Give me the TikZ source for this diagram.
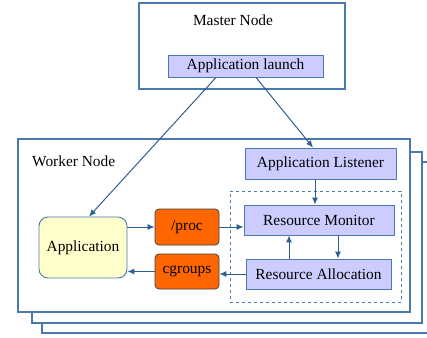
\documentclass[tikz,border=0pt]{standalone}
\usepackage{fontspec}
\setmainfont{Liberation Serif}
\usetikzlibrary{arrows.meta}
\definecolor{frameblue}{HTML}{4A79AC}
\definecolor{arrowblue}{HTML}{2D5F92}
\definecolor{lav}{HTML}{CCCCFF}
\definecolor{appyellow}{HTML}{FFFFCC}
\definecolor{orng}{HTML}{FF6600}
\tikzset{
  frame/.style={draw=frameblue, line width=1.6pt, fill=white, inner sep=0pt},
  lavbox/.style={draw=frameblue, line width=0.9pt, fill=lav, inner sep=0pt, font=\fontsize{15.4}{18}\selectfont},
  orbox/.style={draw=black!75, line width=0.8pt, fill=orng, rounded corners=4pt, inner sep=0pt, font=\fontsize{15.4}{18}\selectfont},
  appbox/.style={draw=frameblue, line width=0.9pt, fill=appyellow, rounded corners=9pt, inner sep=0pt, font=\fontsize{15.4}{18}\selectfont},
  lbl/.style={inner sep=0pt, font=\fontsize{15.4}{18}\selectfont},
  conn/.style={draw=arrowblue, line width=1pt, -{Latex[length=7pt,width=6pt]}},
}
\begin{document}
\begin{tikzpicture}[x=1pt,y=-1pt]
\useasboundingbox (0,0) rectangle (427,337);
\clip (0,0) rectangle (427,337);
% stacked worker frames
\node[frame, minimum width=395pt, minimum height=171pt] (back3) at (239.5,247.5) {};
\node[frame, minimum width=390pt, minimum height=171pt] (back2) at (227,237.5) {};
\node[frame, minimum width=392pt, minimum height=173pt] (worker) at (214,225.5) {};
\node[lbl, anchor=west] (workerlbl) at (32,161) {Worker Node};
% master
\node[frame, minimum width=206pt, minimum height=86pt] (master) at (242,46) {};
\node[lbl] (masterlbl) at (233,20) {Master Node};
\node[lavbox, minimum width=155pt, minimum height=22pt] (launch) at (245.5,66) {Application launch};
% dashed group
\node[draw=frameblue, dashed, line width=0.8pt, minimum width=171pt, minimum height=111pt, inner sep=0pt] (group) at (315.5,246.5) {};
\node[lavbox, minimum width=151pt, minimum height=31pt] (listener) at (320.5,163.5) {Application Listener};
\node[lavbox, minimum width=150pt, minimum height=30pt] (monitor) at (319,220) {Resource Monitor};
\node[lavbox, minimum width=145pt, minimum height=30pt] (alloc) at (318.5,274) {Resource Allocation};
\node[appbox, minimum width=88pt, minimum height=61pt] (app) at (83,247.5) {Application};
\node[orbox, minimum width=64pt, minimum height=36pt] (proc) at (187,227) {/proc};
\node[orbox, minimum width=64pt, minimum height=35pt] (cgroups) at (187,271.5) {cgroups};
% connectors
\draw[conn] ([xshift=-29.5pt]launch.south) -- ([xshift=6pt]app.north);
\draw[conn] ([xshift=10.5pt]launch.south) -- ([xshift=-7.5pt]listener.north);
\draw[conn] ([xshift=-5.5pt]listener.south) -- ([xshift=-5.5pt]listener.south |- monitor.north);
\draw[conn] ([xshift=19pt]monitor.south) -- ([xshift=19pt]monitor.south |- alloc.north);
\draw[conn] ([xshift=-29.5pt]alloc.north) -- ([xshift=-29.5pt]alloc.north |- monitor.south);
\draw[conn] (app.east |- proc.east) -- (proc.west);
\draw[conn] (proc.east) -- (proc.east -| monitor.west);
\draw[conn] (alloc.west) -- (alloc.west -| cgroups.east);
\draw[conn] (cgroups.west) -- (cgroups.west -| app.east);
\end{tikzpicture}
\end{document}
